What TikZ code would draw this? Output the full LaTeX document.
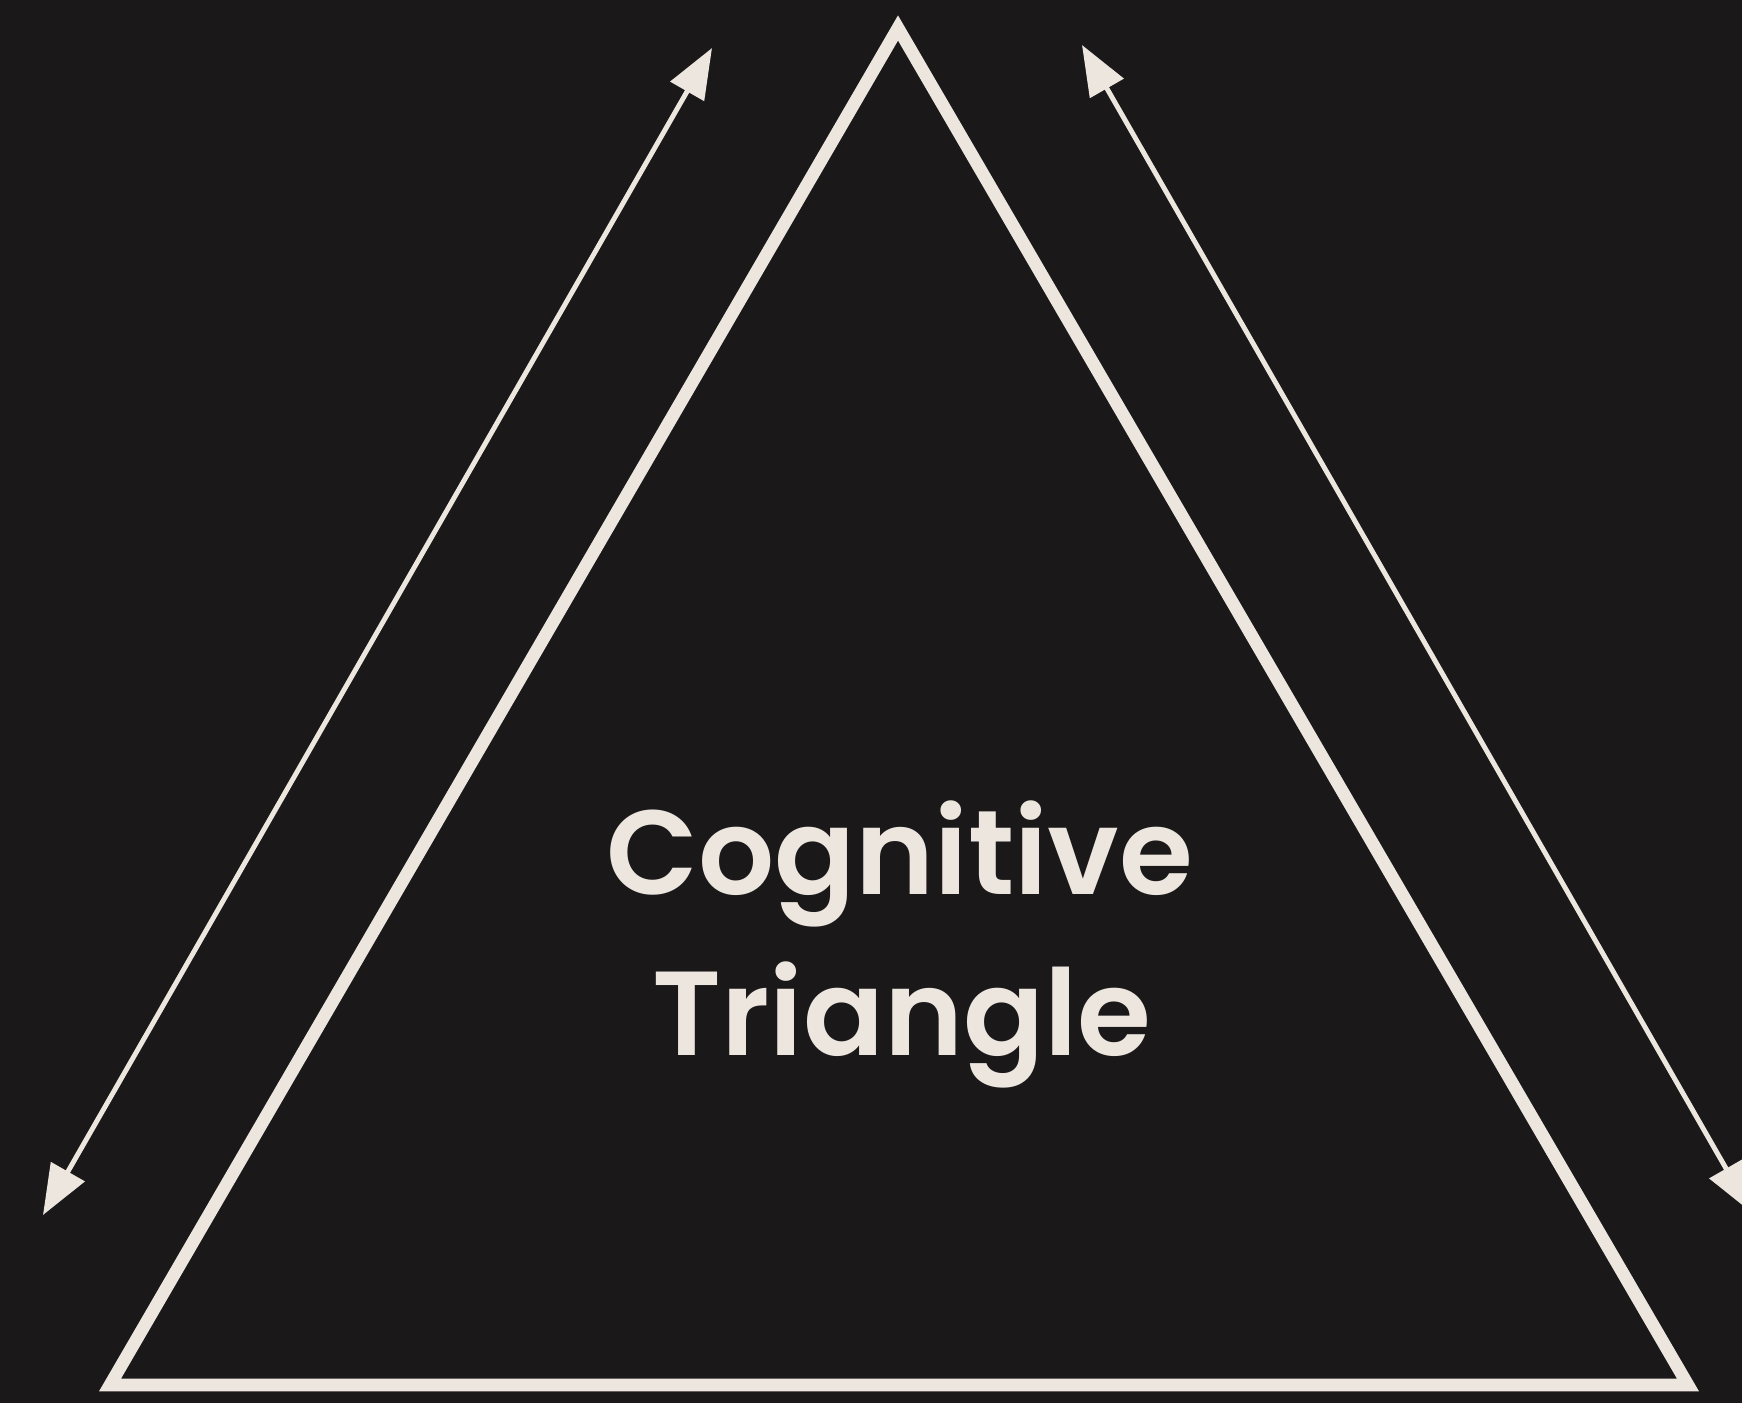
\documentclass[tikz,border=0pt]{standalone}
\usepackage{fontspec}
\newfontfamily\tfont{Poppins}[UprightFont=* SemiBold]
\usetikzlibrary{arrows.meta}
\definecolor{bg}{HTML}{1A1819}
\definecolor{ink}{HTML}{ECE6DF}
\tikzset{
  tri/.style={draw=ink, line width=3.6pt, line join=miter},
  dblarrow/.style={draw=ink, line width=1.4pt, {Triangle[length=0.5cm,width=0.38cm]}-{Triangle[length=0.5cm,width=0.38cm]}},
  label/.style={text=ink, font=\tfont\fontsize{34}{42}\selectfont, anchor=base, inner sep=0pt}
}
\begin{document}
\begin{tikzpicture}[x=0.01cm,y=-0.01cm]
  \fill[bg] (0,0) rectangle (1742,1403);
  \useasboundingbox (0,0) rectangle (1742,1403);
  \coordinate (A) at (898,28);
  \coordinate (B) at (110,1385);
  \coordinate (C) at (1688,1385);
  \draw[tri] (A) -- (B) -- (C) -- cycle;
  \coordinate (L1) at (712,48);
  \coordinate (L2) at (43,1215);
  \coordinate (R1) at (1082,45);
  \coordinate (R2) at (1751,1212);
  \begin{scope}
    \clip (0,0) rectangle (1742,1403);
    \draw[dblarrow] (L2) -- (L1);
    \draw[dblarrow] (R1) -- (R2);
  \end{scope}
  \node[label] (t1) at (900,894) {Cognitive};
  \node[label] (t2) at (902,1055) {Triangle};
\end{tikzpicture}
\end{document}
